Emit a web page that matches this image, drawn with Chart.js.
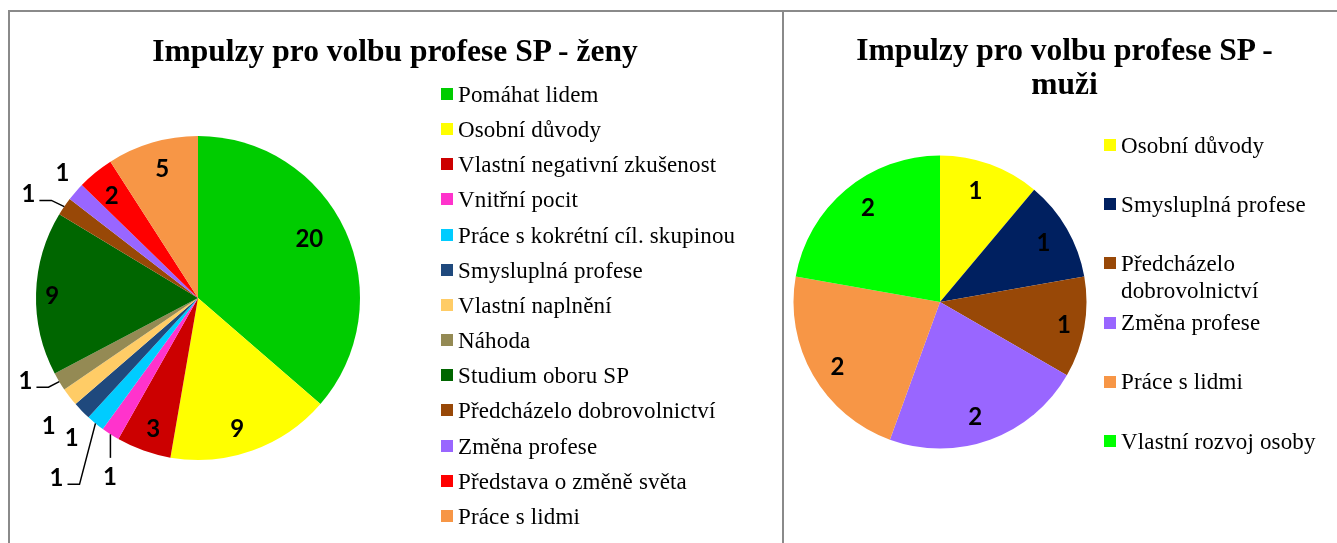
<!DOCTYPE html>
<html>
<head>
<meta charset="utf-8">
<script src="https://cdn.jsdelivr.net/npm/chart.js@4/dist/chart.umd.min.js"></script>
<style>
html,body{margin:0;padding:0;background:#fff;}
body{width:1337px;height:543px;position:relative;overflow:hidden;}
.frame{position:absolute;background:#8a8a8a;}
canvas{position:absolute;top:0;}
.title{position:absolute;font-family:"Liberation Serif","Times New Roman",serif;font-weight:bold;white-space:nowrap;text-align:center;color:#000;}
.legtxt{position:absolute;font-family:"Liberation Serif","Times New Roman",serif;color:#000;}
.sw{position:absolute;width:12px;height:12px;}
</style>
</head>
<body>
<div class="frame" style="left:8px;top:10px;width:1329px;height:2px;"></div>
<div class="frame" style="left:8px;top:10px;width:2px;height:533px;"></div>
<div class="frame" style="left:782px;top:10px;width:2px;height:533px;"></div>

<canvas id="cWomen" width="782" height="543" style="left:0px;"></canvas>
<canvas id="cMen" width="553" height="543" style="left:784px;"></canvas>

<div class="title" id="tWomen" style="left:95px;width:600px;top:35.3px;font-size:31.5px;line-height:31.5px;">Impulzy pro volbu profese SP - ženy</div>
<div class="title" id="tMen" style="left:814.5px;width:500px;top:33.4px;font-size:31.5px;line-height:34px;">Impulzy pro volbu profese SP -<br>muži</div>

<div id="legWomen"></div>
<div id="legMen"></div>

<script>
// ---------- DATA ----------
const womenCategories = [
  "Pomáhat lidem",
  "Osobní důvody",
  "Vlastní negativní zkušenost",
  "Vnitřní pocit",
  "Práce s kokrétní cíl. skupinou",
  "Smysluplná profese",
  "Vlastní naplnění",
  "Náhoda",
  "Studium oboru SP",
  "Předcházelo dobrovolnictví",
  "Změna profese",
  "Představa o změně světa",
  "Práce s lidmi"
];
const womenValues = [20, 9, 3, 1, 1, 1, 1, 1, 9, 1, 1, 2, 5];
const womenColors = ["#00CC00","#FFFF00","#CC0000","#FF33CC","#00CCFF","#1F497D","#FFCC66","#948A54","#006600","#984807","#9966FF","#FF0000","#F79646"];

const menCategories = [
  "Osobní důvody",
  "Smysluplná profese",
  "Předcházelo dobrovolnictví",
  "Změna profese",
  "Práce s lidmi",
  "Vlastní rozvoj osoby"
];
const menValues = [1, 1, 1, 2, 2, 2];
const menColors = ["#FFFF00","#002060","#984807","#9966FF","#F79646","#00FF00"];

// ---------- LABEL LAYOUT (radial factor, angle shift in degrees, leader style) ----------
const womenLabelRadius = [0.78, 0.84, 0.85, 1.225, 1.41, 1.16, 1.21, 1.18, 0.90, 1.23, 1.14, 0.83, 0.83];
const womenLabelShift  = [-3.7, 2.9, -0.6, -6.4, -1, -3.6, -2.8, 5.6, -0.6, -2.7, 1.9, -0.7, 0.9];
const womenLeader      = [null, null, null, "top", "side", null, null, "side", null, "side", null, null, null];
const menLabelRadius   = [0.80, 0.816, 0.86, 0.82, 0.825, 0.81];
const menLabelShift    = [-2.4, 0, 0, 2.9, -2, 2.6];
const menLeader        = [null, null, null, null, null, null];

function makeLabelPlugin(radius, shift, leader, size){
  return {
    id: 'sliceLabels',
    afterDatasetsDraw(chart){
      const ctx = chart.ctx;
      const meta = chart.getDatasetMeta(0);
      const vals = chart.data.datasets[0].data;
      ctx.save();
      ctx.font = 'bold ' + size + 'px Lato, "Open Sans", sans-serif';
      ctx.fillStyle = '#000';
      ctx.strokeStyle = '#000';
      ctx.lineWidth = 1.5;
      ctx.textAlign = 'center';
      ctx.textBaseline = 'alphabetic';
      meta.data.forEach((arc, i) => {
        const p = arc.getProps(['x','y','startAngle','endAngle','outerRadius'], true);
        const mid = (p.startAngle + p.endAngle) / 2;
        const a = mid + shift[i] * Math.PI / 180;
        const lx = p.x + Math.cos(a) * p.outerRadius * radius[i];
        const ly = p.y + Math.sin(a) * p.outerRadius * radius[i];
        const lead = leader[i];
        if (lead) {
          const sx = p.x + Math.cos(mid) * p.outerRadius;
          const sy = p.y + Math.sin(mid) * p.outerRadius;
          ctx.beginPath();
          ctx.moveTo(sx, sy);
          if (lead === 'side') {
            ctx.lineTo(lx + 23, ly + 7);
            ctx.lineTo(lx + 11, ly + 7);
          } else {
            ctx.lineTo(sx, ly - 18);
          }
          ctx.stroke();
        }
        ctx.fillText(String(vals[i]), lx, ly + size * 0.36);
      });
      ctx.restore();
    }
  };
}

function pieConfig(categories, values, colors, padding, plugin){
  return {
    type: 'pie',
    data: {
      labels: categories,
      datasets: [{
        data: values,
        backgroundColor: colors,
        borderWidth: 0,
        hoverBorderWidth: 0,
        offset: 0,
        hoverOffset: 0,
        spacing: 0
      }]
    },
    options: {
      responsive: false,
      animation: false,
      layout: { padding: padding },
      plugins: {
        legend: { display: false },
        title: { display: false },
        tooltip: { enabled: false }
      }
    },
    plugins: [plugin]
  };
}

new Chart(document.getElementById('cWomen'),
  pieConfig(womenCategories, womenValues, womenColors,
    {left: 36, right: 422, top: 136, bottom: 83},
    makeLabelPlugin(womenLabelRadius, womenLabelShift, womenLeader, 24)));

new Chart(document.getElementById('cMen'),
  pieConfig(menCategories, menValues, menColors,
    {left: 9.5, right: 250.5, top: 155.5, bottom: 94.5},
    makeLabelPlugin(menLabelRadius, menLabelShift, menLeader, 24)));

// ---------- HTML legends ----------
function buildLegend(containerId, categories, colors, o){
  const root = document.getElementById(containerId);
  categories.forEach((name, i) => {
    const sqTop = o.sqTop + i * o.step;
    const sw = document.createElement('div');
    sw.className = 'sw';
    sw.style.left = o.sqLeft + 'px';
    sw.style.top = sqTop + 'px';
    sw.style.background = colors[i];
    root.appendChild(sw);
    const t = document.createElement('div');
    t.className = 'legtxt';
    t.textContent = name;
    t.style.left = o.textLeft + 'px';
    t.style.fontSize = o.font + 'px';
    t.style.lineHeight = o.lh + 'px';
    t.style.letterSpacing = o.ls + 'px';
    t.style.width = o.width + 'px';
    const base = sqTop + o.baseOff;
    const topOff = (o.lh - 1.107 * o.font) / 2 + 0.891 * o.font;
    t.style.top = (base - topOff) + 'px';
    root.appendChild(t);
  });
}
buildLegend('legWomen', womenCategories, womenColors,
  {sqLeft: 441, sqTop: 88, step: 35.15, textLeft: 458, font: 23, lh: 23, ls: 0.15, baseOff: 14.3, width: 320});
buildLegend('legMen', menCategories, menColors,
  {sqLeft: 1104, sqTop: 139, step: 59.2, textLeft: 1121, font: 23, lh: 27, ls: 0.15, baseOff: 13.8, width: 212});
</script>
</body>
</html>
